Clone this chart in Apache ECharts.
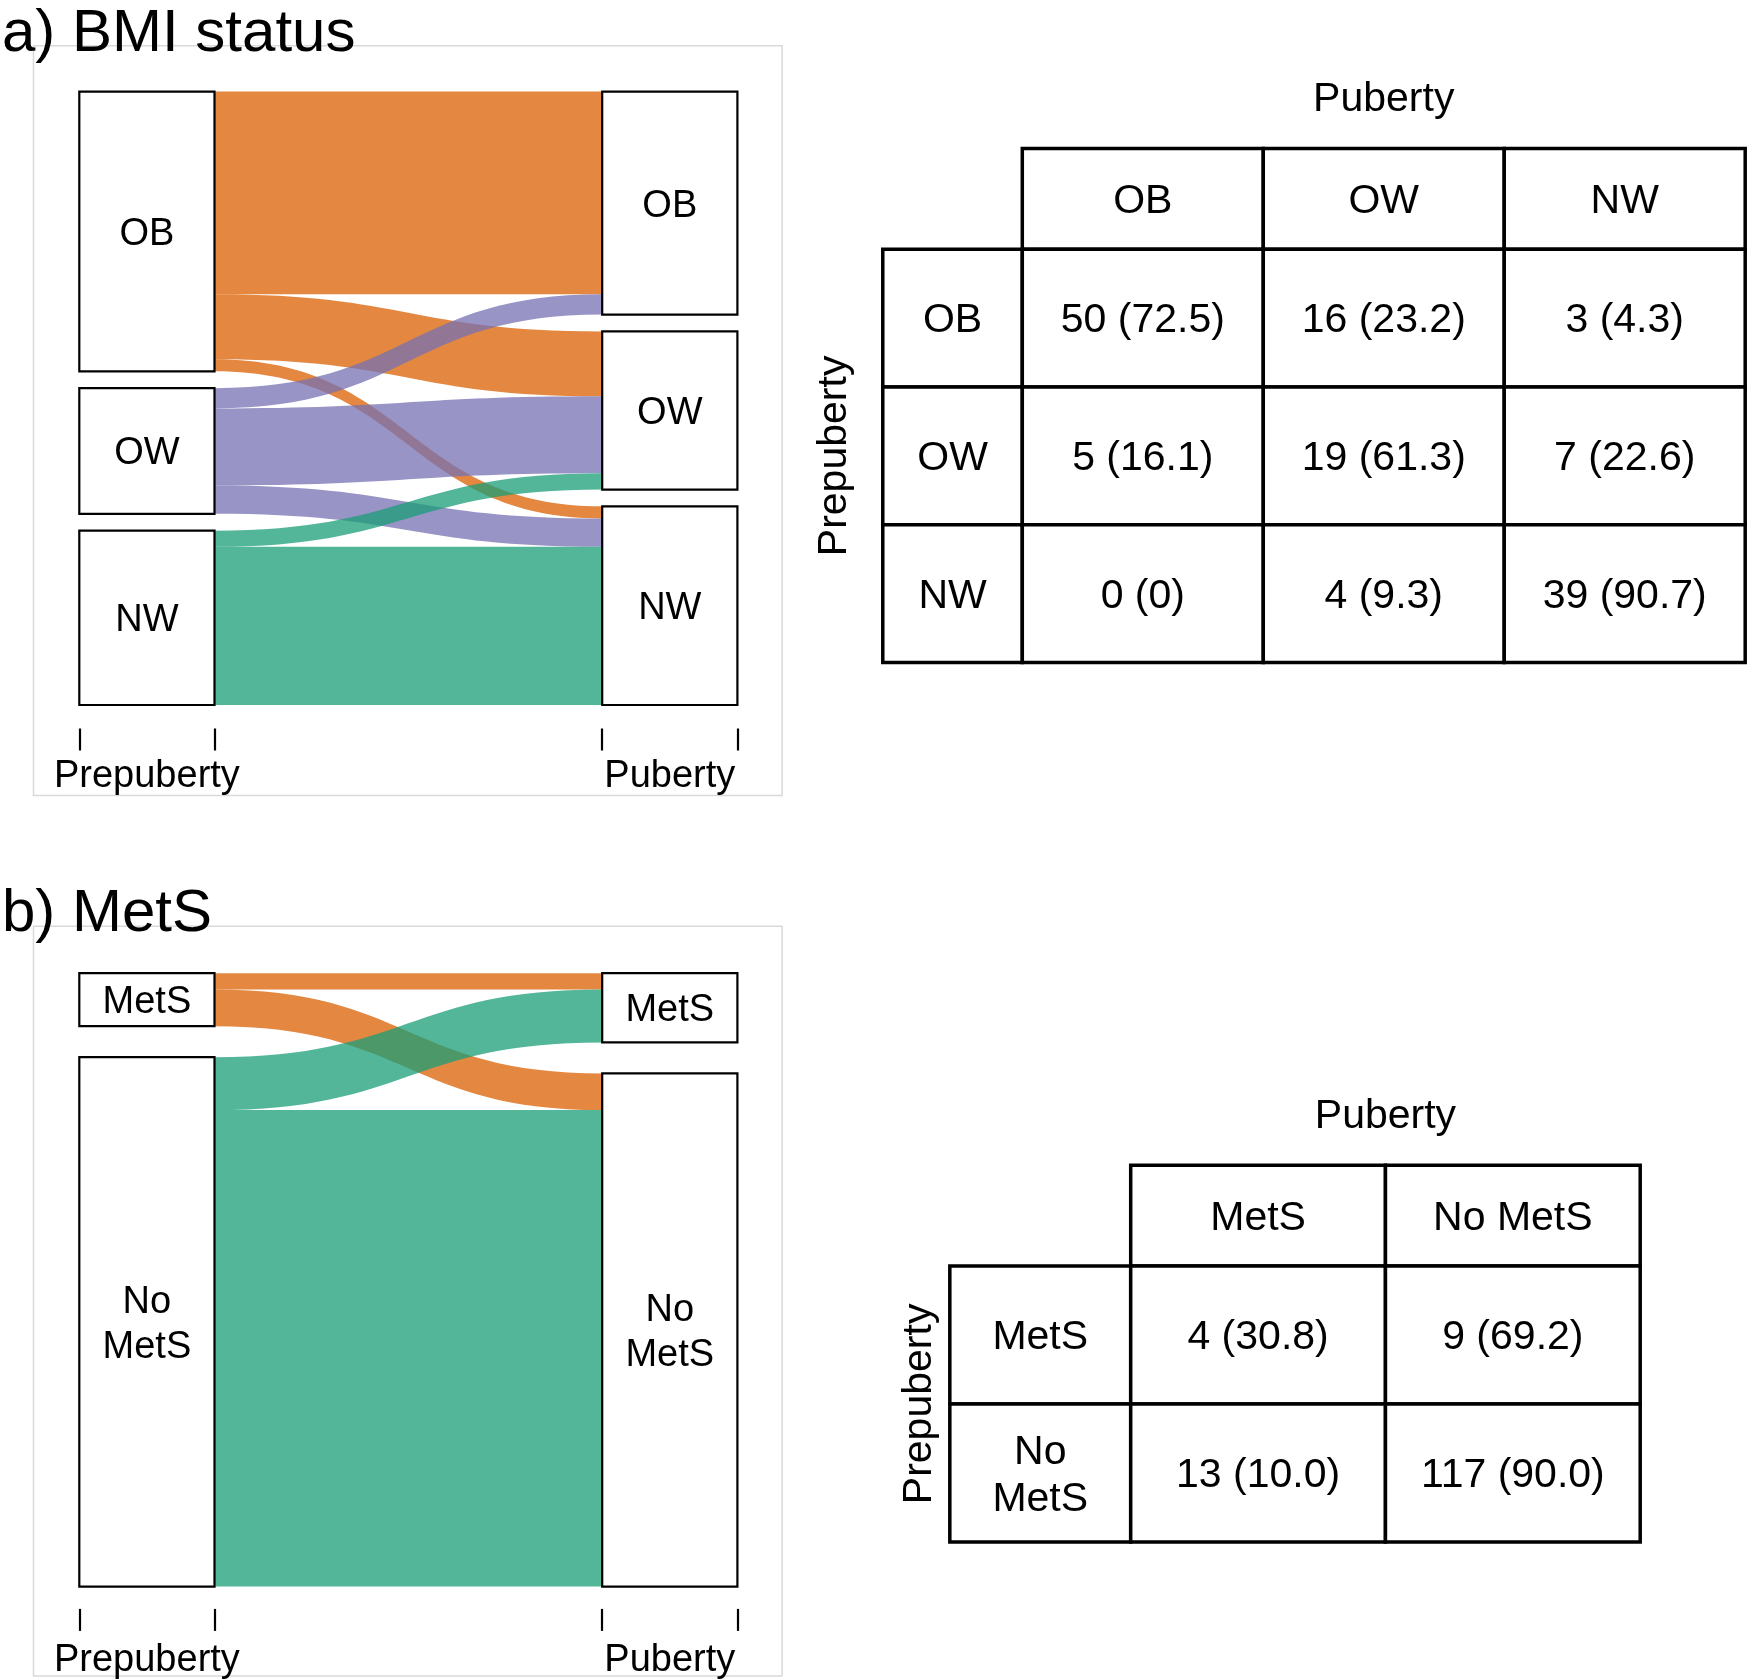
<!DOCTYPE html>
<html>
<head>
<meta charset="utf-8">
<title>BMI status and MetS</title>
<script src="https://cdn.jsdelivr.net/npm/echarts@6/dist/echarts.min.js"></script>
<style>
  html, body { margin: 0; padding: 0; background: #fff; }
  #main { width: 1752px; height: 1680px; }
</style>
</head>
<body>
<div id="main"></div>
<script>
// categories
var stageLabels = ['Prepuberty', 'Puberty'];
var bmiCats = ['OB', 'OW', 'NW'];
var metsCats = ['MetS', 'No MetS'];

// counts, one array per prepuberty group (to each puberty group)
var bmiFromOB = [50, 16, 3];
var bmiFromOW = [5, 19, 7];
var bmiFromNW = [0, 4, 39];
var metsFromMetS = [4, 9];
var metsFromNoMetS = [13, 117];

// row percentages as printed in the tables
var bmiPctOB = [72.5, 23.2, 4.3];
var bmiPctOW = [16.1, 61.3, 22.6];
var bmiPctNW = [0, 9.3, 90.7];
var metsPctMetS = [30.8, 69.2];
var metsPctNoMetS = [10.0, 90.0];

var FONT = 'Liberation Sans, Arial, Helvetica, sans-serif';
var bmiColors = {'OB': '#d95f02', 'OW': '#7570b3', 'NW': '#1b9e77'};
var metsColors = {'MetS': '#d95f02', 'No MetS': '#1b9e77'};

function fmtPct(v) {
    return v === 0 ? '0' : v.toFixed(1);
}

// nodes + links for a sankey from the count arrays
function buildFlow(cats, rows, colors) {
    var nodes = [];
    var links = [];
    cats.forEach(function (c) { nodes.push({name: 'pre:' + c}); });
    cats.forEach(function (c) { nodes.push({name: 'pub:' + c}); });
    rows.forEach(function (row, i) {
        row.forEach(function (v, j) {
            if (v > 0) {
                links.push({
                    source: 'pre:' + cats[i],
                    target: 'pub:' + cats[j],
                    value: v,
                    lineStyle: {color: colors[cats[i]]}
                });
            }
        });
    });
    return {nodes: nodes, links: links};
}

// cells of a cross table: header row, header column, body
function buildTable(cats, counts, pcts) {
    var cells = [];
    cats.forEach(function (c, j) { cells.push({value: [j, -1], name: c}); });
    cats.forEach(function (c, i) { cells.push({value: [-1, i], name: c.replace(' ', '\n')}); });
    counts.forEach(function (row, i) {
        row.forEach(function (v, j) {
            cells.push({value: [j, i], name: v + ' (' + fmtPct(pcts[i][j]) + ')'});
        });
    });
    return cells;
}

var bmiFlow = buildFlow(bmiCats, [bmiFromOB, bmiFromOW, bmiFromNW], bmiColors);
var metsFlow = buildFlow(metsCats, [metsFromMetS, metsFromNoMetS], metsColors);
var bmiCells = buildTable(bmiCats, [bmiFromOB, bmiFromOW, bmiFromNW], [bmiPctOB, bmiPctOW, bmiPctNW]);
var metsCells = buildTable(metsCats, [metsFromMetS, metsFromNoMetS], [metsPctMetS, metsPctNoMetS]);

function sankeySeries(flow, top, gap) {
    return {
        type: 'sankey',
        left: 79.3,
        top: top,
        width: 658.1,
        height: 613.4,
        nodeWidth: 135.2,
        nodeGap: gap,
        layoutIterations: 0,
        draggable: false,
        silent: true,
        data: flow.nodes,
        links: flow.links,
        itemStyle: {color: '#fff', borderColor: '#000', borderWidth: 2.2},
        lineStyle: {opacity: 0.75, curveness: 0.5},
        label: {
            position: 'inside',
            offset: [0, 3],
            fontSize: 38,
            lineHeight: 45,
            fontFamily: FONT,
            color: '#000',
            formatter: function (p) {
                return p.name.slice(4).replace(' ', '\n');
            }
        },
        emphasis: {disabled: true}
    };
}

function tableRender(cells, headW, headH) {
    return function (params, api) {
        var c = api.value(0);
        var r = api.value(1);
        var x0 = c < 0 ? -headW : c, x1 = c < 0 ? 0 : c + 1;
        var y0 = r < 0 ? -headH : r, y1 = r < 0 ? 0 : r + 1;
        var p0 = api.coord([x0, y0]);
        var p1 = api.coord([x1, y1]);
        return {
            type: 'group',
            children: [{
                type: 'rect',
                shape: {x: p0[0], y: p0[1], width: p1[0] - p0[0], height: p1[1] - p0[1]},
                style: {fill: '#fff', stroke: '#000', lineWidth: 3.5}
            }, {
                type: 'text',
                style: {
                    text: cells[params.dataIndex].name,
                    x: (p0[0] + p1[0]) / 2,
                    y: (p0[1] + p1[1]) / 2 + 3,
                    align: 'center',
                    verticalAlign: 'middle',
                    fontSize: 41,
                    lineHeight: 47,
                    fontFamily: FONT,
                    fill: '#000'
                }
            }]
        };
    };
}

function frameGrid(top) {
    return {show: true, left: 33.5, top: top, width: 748.6, height: 749.8,
        borderColor: '#d9d9d9', borderWidth: 1.5, backgroundColor: 'transparent'};
}

var nodeFrac = 135.2 / 658.1;

function stageAxis(gridIndex, margin) {
    return {
        type: 'value', gridIndex: gridIndex, min: 0, max: 1,
        axisLine: {show: false},
        splitLine: {show: false},
        axisTick: {show: true, length: 22, customValues: [0, nodeFrac, 1 - nodeFrac, 1],
            lineStyle: {color: '#000', width: 2.2}},
        axisLabel: {show: true, customValues: [nodeFrac / 2, 1 - nodeFrac / 2], margin: margin,
            fontSize: 38, fontFamily: FONT, color: '#000',
            formatter: function (v) { return v < 0.5 ? stageLabels[0] : stageLabels[1]; }}
    };
}

function hiddenAxis(gridIndex) {
    return {type: 'value', gridIndex: gridIndex, show: false, min: 0, max: 1};
}

function tableXAxis(gridIndex, n, gap) {
    return {
        type: 'value', gridIndex: gridIndex, min: 0, max: n, position: 'top',
        axisLine: {show: false}, axisTick: {show: false}, axisLabel: {show: false}, splitLine: {show: false},
        name: stageLabels[1], nameLocation: 'middle', nameGap: gap,
        nameTextStyle: {fontSize: 41, fontFamily: FONT, color: '#000'}
    };
}

function tableYAxis(gridIndex, n, gap) {
    return {
        type: 'value', gridIndex: gridIndex, min: 0, max: n, inverse: true,
        axisLine: {show: false}, axisTick: {show: false}, axisLabel: {show: false}, splitLine: {show: false},
        name: stageLabels[0], nameLocation: 'middle', nameGap: gap, nameRotate: 90,
        nameTextStyle: {fontSize: 41, fontFamily: FONT, color: '#000'}
    };
}

var chart = echarts.init(document.getElementById('main'));
var option = {
    animation: false,
    backgroundColor: '#fff',
    title: [{
        text: 'a) BMI status', left: 2, top: 4, padding: 0,
        textStyle: {fontSize: 60, fontWeight: 'normal', color: '#000', fontFamily: FONT}
    }, {
        text: 'b) MetS', left: 2, top: 884, padding: 0,
        textStyle: {fontSize: 60, fontWeight: 'normal', color: '#000', fontFamily: FONT}
    }],
    grid: [
        frameGrid(45.8),
        {left: 79.3, top: 700, width: 658.1, height: 28.5},
        frameGrid(926.2),
        {left: 79.3, top: 1580, width: 658.1, height: 28.9},
        {left: 1022.3, top: 249.2, width: 722.9, height: 413.4},
        {left: 1130.7, top: 1265.9, width: 509.5, height: 276}
    ],
    xAxis: [
        hiddenAxis(0), stageAxis(1, 29.5), hiddenAxis(2), stageAxis(3, 33),
        tableXAxis(4, bmiCats.length, 129.5),
        tableXAxis(5, metsCats.length, 128.5)
    ],
    yAxis: [
        hiddenAxis(0), hiddenAxis(1), hiddenAxis(2), hiddenAxis(3),
        tableYAxis(4, bmiCats.length, 167),
        tableYAxis(5, metsCats.length, 191)
    ],
    series: [
        sankeySeries(bmiFlow, 91.6, 16.8),
        sankeySeries(metsFlow, 973.2, 31),
        {
            type: 'custom', xAxisIndex: 4, yAxisIndex: 4, silent: true, clip: false,
            renderItem: tableRender(bmiCells, 0.579, 0.73),
            data: bmiCells
        },
        {
            type: 'custom', xAxisIndex: 5, yAxisIndex: 5, silent: true, clip: false,
            renderItem: tableRender(metsCells, 0.71, 0.729),
            data: metsCells
        }
    ]
};
chart.setOption(option);
</script>
</body>
</html>
